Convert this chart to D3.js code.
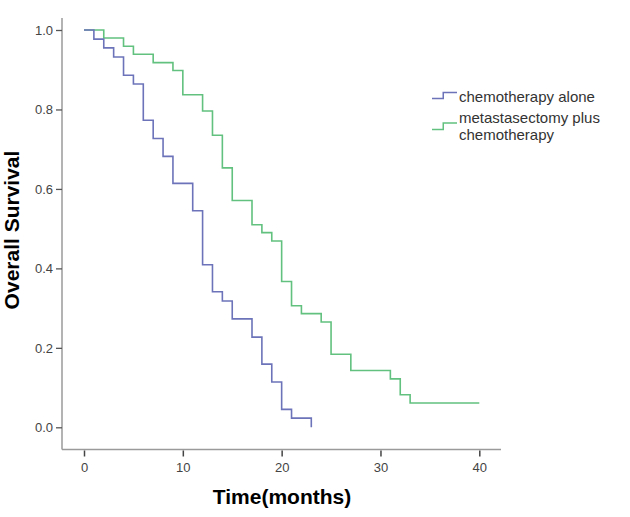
<!DOCTYPE html>
<html>
<head>
<meta charset="utf-8">
<script src="https://cdn.jsdelivr.net/npm/d3@7"></script>
<style>
  html, body { margin: 0; padding: 0; background: #fff; }
  svg { display: block; font-family: "Liberation Sans", Arial, sans-serif; }
</style>
</head>
<body>
<svg id="chart" width="630" height="517"></svg>
<script>
// ---- data ----
const seriesNames = ["chemotherapy alone", "metastasectomy plus chemotherapy"];
const legendLines = [["chemotherapy alone"], ["metastasectomy plus", "chemotherapy"]];
const chemoTimes = [0, 1, 2, 3, 4, 5, 6, 7, 8, 9, 11, 12, 13, 14, 15, 17, 18, 19, 20, 21, 23];
const chemoSurv  = [1.0, 0.977, 0.955, 0.932, 0.886, 0.864, 0.773, 0.727, 0.682, 0.614, 0.545, 0.409, 0.341, 0.318, 0.273, 0.227, 0.159, 0.114, 0.045, 0.023, 0.0];
const metaTimes = [0, 2, 4, 5, 7, 9, 10, 12, 13, 14, 15, 17, 18, 19, 20, 21, 22, 24, 25, 27, 31, 32, 33, 40];
const metaSurv  = [1.0, 0.980, 0.959, 0.939, 0.918, 0.898, 0.837, 0.796, 0.735, 0.653, 0.571, 0.510, 0.490, 0.469, 0.367, 0.306, 0.286, 0.265, 0.184, 0.143, 0.122, 0.082, 0.061, 0.061];
const xTicks = [0, 10, 20, 30, 40];
const yTicks = [0, 0.2, 0.4, 0.6, 0.8, 1.0];
const xTitle = "Time(months)";
const yTitle = "Overall Survival";
const colors = ["#6c73b9", "#62c17f"];

// ---- layout ----
const svg = d3.select("#chart");
const x = d3.scaleLinear().domain([0, 40]).range([84, 479.3]);
const y = d3.scaleLinear().domain([0, 1]).range([427.3, 30]);
const axisX = 62, axisY = 449.5;
const axisColor = "#9a9a9a";
const tickTextColor = "#444";

// axis domain lines
svg.append("line").attr("x1", axisX).attr("x2", axisX).attr("y1", 18).attr("y2", axisY)
  .attr("stroke", axisColor).attr("stroke-width", 1.5);
svg.append("line").attr("x1", axisX).attr("x2", 501).attr("y1", axisY).attr("y2", axisY)
  .attr("stroke", axisColor).attr("stroke-width", 1.5);

// y axis
const gy = svg.append("g").attr("transform", `translate(${axisX},0)`)
  .call(d3.axisLeft(y).tickValues(yTicks).tickFormat(d3.format(".1f")).tickSize(6).tickPadding(3));
gy.select(".domain").remove();
gy.selectAll(".tick line").attr("stroke", "#555").attr("stroke-width", 1.3);
gy.selectAll(".tick text").attr("fill", tickTextColor).style("font-size", "13px")
  .style("font-family", "'Liberation Sans', Arial, sans-serif");

// x axis
const gx = svg.append("g").attr("transform", `translate(0,${axisY + 1})`)
  .call(d3.axisBottom(x).tickValues(xTicks).tickFormat(d3.format("d")).tickSize(6).tickPadding(6));
gx.select(".domain").remove();
gx.selectAll(".tick line").attr("stroke", "#444").attr("stroke-width", 1.5);
gx.selectAll(".tick text").attr("fill", tickTextColor).style("font-size", "13px")
  .style("font-family", "'Liberation Sans', Arial, sans-serif");

// titles
svg.append("text").attr("x", 282).attr("y", 504).attr("text-anchor", "middle")
  .style("font-size", "21px").style("font-weight", "bold").attr("fill", "#000").text(xTitle);
svg.append("text").attr("transform", "translate(19,230) rotate(-90)").attr("text-anchor", "middle")
  .style("font-size", "21px").style("font-weight", "bold").attr("fill", "#000").text(yTitle);

// curves
const line = d3.line().x(d => x(d[0])).y(d => y(d[1])).curve(d3.curveStepAfter);
const chemo = chemoTimes.map((t, i) => [t, chemoSurv[i]]);
const meta = metaTimes.map((t, i) => [t, metaSurv[i]]);
svg.append("path").datum(meta).attr("d", line).attr("fill", "none")
  .attr("stroke", colors[1]).attr("stroke-width", 1.6);
svg.append("path").datum(chemo).attr("d", line).attr("fill", "none")
  .attr("stroke", colors[0]).attr("stroke-width", 1.6);

// legend
const legendIcon = [[0, 0], [0.45, 1], [1, 1]];
const lx = d3.scaleLinear().domain([0, 1]).range([432, 457]);
const iconLine = d3.line().x(d => lx(d[0])).curve(d3.curveStepAfter);
const legendY = [[98.5, 92.5], [129.5, 123]];
const legendTextY = [102, 123];
seriesNames.forEach((name, i) => {
  const ly = d3.scaleLinear().domain([0, 1]).range(legendY[i]);
  svg.append("path").datum(legendIcon)
    .attr("d", iconLine.y(d => ly(d[1])))
    .attr("fill", "none").attr("stroke", colors[i]).attr("stroke-width", 1.5);
  legendLines[i].forEach((txt, j) => {
    svg.append("text").attr("x", 459).attr("y", legendTextY[i] + j * 17)
      .style("font-size", "15px").attr("fill", "#333").text(txt);
  });
});
</script>
</body>
</html>
